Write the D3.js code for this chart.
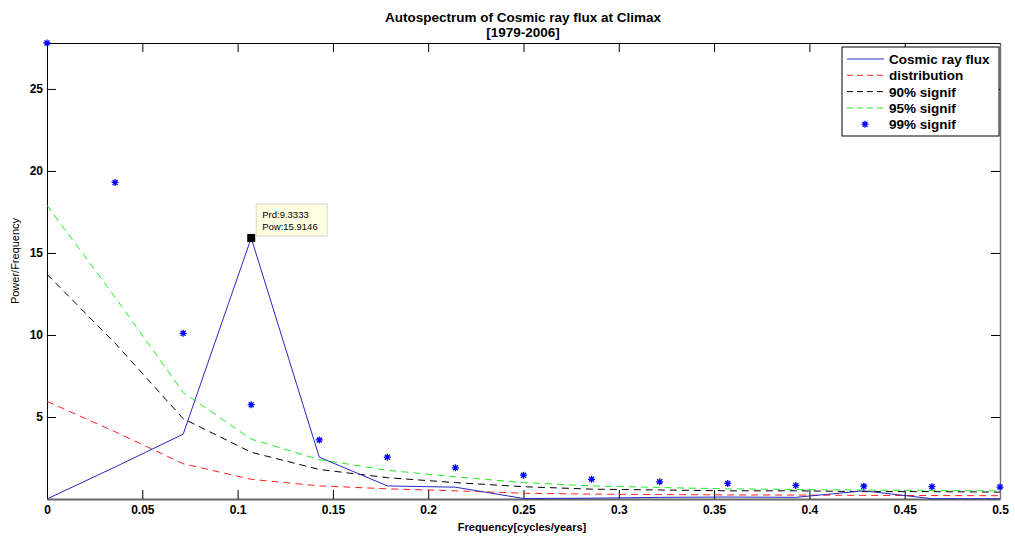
<!DOCTYPE html>
<meta charset="utf-8">
<script src="https://d3js.org/d3.v7.min.js"></script>
<style>
  body { margin: 0; background: #fff; }
  text { font-family: "Liberation Sans", Arial, sans-serif; }
  .tick text { font-size: 12px; font-weight: bold; }
</style>
<body>
<div id="chart"></div>
<script>
// frequencies k/28 (28 yearly values, 1979-2006)
var freq = d3.range(0, 15).map(function(k) { return k / 28; });
var flux  = [0, 1.95, 3.95, 15.9146, 2.55, 0.8, 0.72, 0.03, 0.05, 0.1, 0.12, 0.1, 0.5, 0.02, 0.02];
var distr = [5.95, 4.1, 2.15, 1.2, 0.8, 0.62, 0.5, 0.35, 0.3, 0.27, 0.25, 0.24, 0.22, 0.21, 0.2];
var sig90 = [13.7, 9.5, 4.9, 2.85, 1.8, 1.3, 1.0, 0.75, 0.6, 0.55, 0.5, 0.5, 0.45, 0.45, 0.42];
var sig95 = [17.9, 12.3, 6.5, 3.65, 2.4, 1.75, 1.35, 1.0, 0.8, 0.7, 0.62, 0.58, 0.55, 0.52, 0.5];
var sig99 = [27.8, 19.3, 10.1, 5.75, 3.6, 2.55, 1.9, 1.45, 1.2, 1.05, 0.95, 0.83, 0.78, 0.75, 0.73];
var xTicks = [0, 0.05, 0.1, 0.15, 0.2, 0.25, 0.3, 0.35, 0.4, 0.45, 0.5];
var yTicks = [5, 10, 15, 20, 25];
var peak = 3; // datatip index

var W = 1015, H = 536;
var margin = {top: 43, right: 15, bottom: 37, left: 47};
var width = W - margin.left - margin.right,
    height = H - margin.top - margin.bottom;

var svg = d3.select("#chart").append("svg")
    .attr("width", W).attr("height", H);
var g = svg.append("g")
    .attr("transform", "translate(" + margin.left + "," + margin.top + ")");

var x = d3.scaleLinear().domain([0, 0.5]).range([0, width]);
var y = d3.scaleLinear().domain([0, d3.max(sig99)]).range([height, 0]);

// axes, MATLAB style: ticks inside, box all round
g.append("g")
    .attr("transform", "translate(0," + height + ")")
    .call(d3.axisBottom(x).tickValues(xTicks).tickSizeInner(-9).tickSizeOuter(0)
      .tickPadding(6).tickFormat(d3.format("")))
    .call(function(a) {
      a.select(".domain").attr("stroke", "#666").attr("stroke-width", 2);
    });
g.append("g")
    .call(d3.axisTop(x).tickValues(xTicks).tickSizeInner(-9).tickSizeOuter(0).tickFormat(""));
g.append("g")
    .call(d3.axisLeft(y).tickValues(yTicks).tickSizeInner(-9).tickSizeOuter(0).tickPadding(4));
g.append("g")
    .attr("transform", "translate(" + width + ",0)")
    .call(d3.axisRight(y).tickValues(yTicks).tickSizeInner(-9).tickSizeOuter(0).tickFormat(""))
    .call(function(a) { a.select(".domain").attr("stroke", "#777").attr("stroke-width", 1.5); });

var line = d3.line()
    .x(function(d, i) { return x(freq[i]); })
    .y(function(d) { return y(d); });

var series = [
  {name: "Cosmic ray flux", data: flux, color: "#2828c0", dash: null},
  {name: "distribution", data: distr, color: "#ff2020", dash: "7,5"},
  {name: "90% signif", data: sig90, color: "#000", dash: "7,5"},
  {name: "95% signif", data: sig95, color: "#22ee22", dash: "7,5"}
];

series.slice().reverse().forEach(function(s) {
  g.append("path")
    .datum(s.data)
    .attr("d", line)
    .attr("fill", "none")
    .attr("stroke", s.color)
    .attr("stroke-width", 1)
    .attr("stroke-dasharray", s.dash);
});

// asterisk markers
var star = "M-3.5,0H3.5M0,-3.5V3.5M-2.5,-2.5L2.5,2.5M-2.5,2.5L2.5,-2.5";
g.selectAll(".star")
  .data(sig99)
  .enter().append("path")
    .attr("class", "star")
    .attr("transform", function(d, i) { return "translate(" + x(freq[i]) + "," + y(d) + ")"; })
    .attr("d", star)
    .attr("stroke", "#0000ff")
    .attr("stroke-width", 1.3);

// datatip
var px = x(freq[peak]), py = y(flux[peak]);
g.append("rect")
    .attr("x", px - 4).attr("y", py - 4).attr("width", 8).attr("height", 8)
    .attr("fill", "#000");
var tip = g.append("g").attr("transform", "translate(" + (px + 5) + "," + (py - 34) + ")");
tip.append("rect")
    .attr("width", 71).attr("height", 32)
    .attr("fill", "#ffffe1").attr("stroke", "#d8d8c8");
tip.append("text").attr("x", 6).attr("y", 14)
    .style("font-size", "9.5px").text("Prd:" + (1 / freq[peak]).toFixed(4));
tip.append("text").attr("x", 6).attr("y", 26)
    .style("font-size", "9.5px").text("Pow:" + flux[peak].toFixed(4));

// legend
var lg = g.append("g").attr("transform", "translate(" + (width - 158) + ",4)");
lg.append("rect")
    .attr("width", 157).attr("height", 89)
    .attr("fill", "#fff").attr("stroke", "#000");
series.forEach(function(s, i) {
  var yy = 12 + i * 16.3;
  lg.append("line")
    .attr("x1", 5).attr("x2", 42).attr("y1", yy).attr("y2", yy)
    .attr("stroke", s.color).attr("stroke-dasharray", s.dash ? "6,4" : null);
  lg.append("text").attr("x", 47).attr("y", yy + 5)
    .style("font-size", "13.5px").style("font-weight", "bold").text(s.name);
});
var y99 = 12 + 4 * 16.3;
lg.append("path").attr("transform", "translate(23," + y99 + ")")
    .attr("d", star).attr("stroke", "#0000ff").attr("stroke-width", 1.3);
lg.append("text").attr("x", 47).attr("y", y99 + 5)
    .style("font-size", "13.5px").style("font-weight", "bold").text("99% signif");

// titles
svg.append("text").attr("x", 523).attr("y", 22).attr("text-anchor", "middle")
    .style("font-size", "13.5px").style("font-weight", "bold")
    .text("Autospectrum of Cosmic ray flux at Climax");
svg.append("text").attr("x", 523).attr("y", 37).attr("text-anchor", "middle")
    .style("font-size", "13.5px").style("font-weight", "bold")
    .text("[1979-2006]");
svg.append("text").attr("x", 522).attr("y", 531).attr("text-anchor", "middle")
    .style("font-size", "11px").style("font-weight", "bold")
    .text("Frequency[cycles/years]");
svg.append("text")
    .attr("transform", "translate(19,261) rotate(-90)").attr("text-anchor", "middle")
    .style("font-size", "11px")
    .text("Power/Frequency");
</script>
</body>
</html>
